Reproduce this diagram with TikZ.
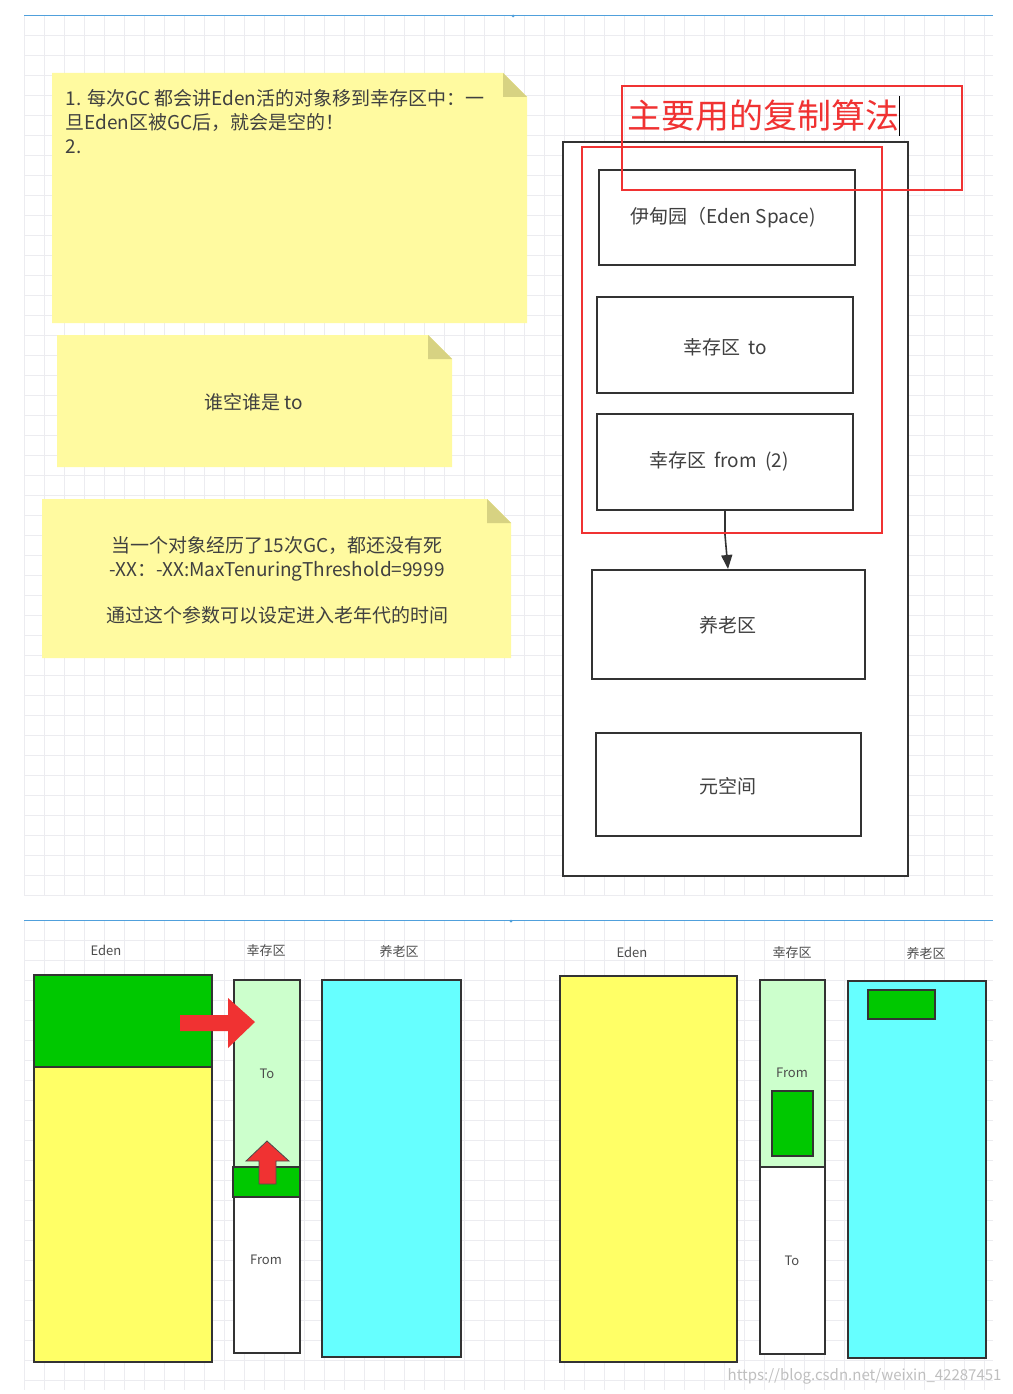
\documentclass[tikz,border=0pt]{standalone}
\usepackage{fontspec}
\setmainfont{Noto Sans CJK SC}
\usetikzlibrary{arrows.meta}
\definecolor{note}{RGB}{255,250,160}
\definecolor{fold}{RGB}{215,210,130}
\definecolor{gridc}{RGB}{236,236,240}
\definecolor{lblue}{RGB}{80,160,220}
\definecolor{gr}{RGB}{0,200,0}
\definecolor{lgr}{RGB}{204,255,204}
\definecolor{yl}{RGB}{255,255,102}
\definecolor{cy}{RGB}{102,255,255}
\definecolor{rd}{RGB}{240,50,50}
\tikzset{
 notebox/.style={fill=note,draw=none},
 box/.style={draw=black!80,line width=2pt,fill=white},
 blk/.style={draw=black!80,line width=1.6pt},
 t18/.style={font=\fontsize{19}{24}\selectfont,text=black!75},
 t13/.style={font=\fontsize{13}{16}\selectfont,text=black!70},
}
\newcommand{\notefold}[4]{% x1 y1 x2 y2
 \fill[note] (#1,#2) -- (#3-24,#2) -- (#3,#2+24) -- (#3,#4) -- (#1,#4) -- cycle;
 \fill[fold] (#3-24,#2) -- (#3,#2+24) -- (#3-24,#2+24) -- cycle;}
\begin{document}
\begin{tikzpicture}[x=1pt,y=-1pt]
\useasboundingbox (0,0) rectangle (1012,1394);
\fill[white] (0,0) rectangle (1012,1394);
% grids
\begin{scope}
\clip (24,15) rectangle (993,895);
\foreach \i in {0,...,50} {\draw[gridc] (24+\i*20,15) -- (24+\i*20,895);}
\foreach \i in {0,...,45} {\draw[gridc] (24,15+\i*20) -- (993,15+\i*20);}
\end{scope}
\begin{scope}
\clip (24,920) rectangle (993,1390);
\foreach \i in {0,...,50} {\draw[gridc] (24+\i*20,920) -- (24+\i*20,1390);}
\foreach \i in {0,...,24} {\draw[gridc] (24,920+\i*20) -- (993,920+\i*20);}
\end{scope}
\draw[lblue] (24,15) -- (993,15);
\draw[lblue] (24,920) -- (993,920);
\fill[lblue] (513,16) circle (1.5);
\fill[lblue] (511,921) circle (1.5);
% notes
\notefold{52}{73}{527}{323}
\notefold{57}{335}{452}{467}
\notefold{42}{499}{511}{658}
\node[t18,anchor=north west,align=left] (n1) at (62,86) {1. 每次GC 都会讲Eden活的对象移到幸存区中：一\\旦Eden区被GC后，就会是空的！\\2.};
\node[t18] (n2) at (254,402) {谁空谁是 to};
\node[t18,align=center] (n3) at (277,580) {当一个对象经历了15次GC，都还没有死\\-XX：-XX:MaxTenuringThreshold=9999\\[22pt]通过这个参数可以设定进入老年代的时间};
% right structure
\draw[box] (563,142) rectangle (908,876);
\draw[box] (599,170) rectangle (855,265);
\node[t18] (eden) at (723,218) {伊甸园（Eden Space)};
\draw[box] (597,297) rectangle (853,393);
\node[t18] (to) at (725,347) {幸存区 \ to};
\draw[box] (597,414) rectangle (853,510);
\node[t18] (from) at (719,461) {幸存区 \ from \ (2)};
\draw[box] (592,570) rectangle (865,679);
\node[t18] (old) at (728,625) {养老区};
\draw[box] (596,733) rectangle (861,836);
\node[t18] (meta) at (728,786) {元空间};
\coordinate (fb) at (725,511);
\coordinate (ot) at (728,569);
\draw[line width=1.6pt,black!80,-{Triangle[length=14pt,width=11pt]}] (fb) -- (725,535) -- (ot);
\draw[rd,line width=2pt] (582,147) rectangle (882,533);
\draw[rd,line width=1.6pt] (622,86) rectangle (962,190);
\node[anchor=west,text=rd,font=\fontsize{34}{38}\selectfont] (title) at (624,116) {主要用的复制算法};
\draw[black,line width=1pt] (899,96) -- (899,136);
% bottom left
\node[t13] (le) at (106,950) {Eden};
\draw[blk,fill=gr] (34,975) rectangle (212,1067);
\draw[blk,fill=yl] (34,1067) rectangle (212,1362);
\node[t13] (ls) at (266,951) {幸存区};
\draw[blk,fill=lgr] (234,980) rectangle (300,1167);
\draw[blk,fill=gr] (233,1167) rectangle (300,1197);
\draw[blk,fill=white] (234,1197) rectangle (300,1353);
\node[t13] (lto) at (267,1074) {To};
\node[t13] (lfrom) at (266,1260) {From};
\node[t13] (lo) at (399,952) {养老区};
\draw[blk,fill=cy] (322,980) rectangle (461,1357);
\fill[rd] (180,1015) -- (228,1015) -- (228,998) -- (255,1022) -- (228,1048) -- (228,1031) -- (180,1031) -- cycle;
\draw[black!70,fill=rd,line width=0.8pt] (259,1184) -- (259,1161) -- (246,1161) -- (267,1141) -- (289,1161) -- (276,1161) -- (276,1184) -- cycle;
% bottom right
\node[t13] (re) at (632,952) {Eden};
\draw[blk,fill=yl] (560,976) rectangle (737,1362);
\node[t13] (rs) at (792,953) {幸存区};
\draw[blk,fill=lgr] (760,980) rectangle (825,1167);
\draw[blk,fill=gr] (772,1091) rectangle (813,1156);
\draw[blk,fill=white] (760,1167) rectangle (825,1354);
\node[t13] (rfrom) at (792,1073) {From};
\node[t13] (rto) at (792,1261) {To};
\node[t13] (ro) at (926,954) {养老区};
\draw[blk,fill=cy] (848,981) rectangle (986,1358);
\draw[blk,fill=gr] (868,990) rectangle (935,1019);
\node[text=black!25,font=\fontsize{15}{18}\selectfont,anchor=east] (wm) at (1005,1376) {https://blog.csdn.net/weixin\_42287451};
\end{tikzpicture}
\end{document}
